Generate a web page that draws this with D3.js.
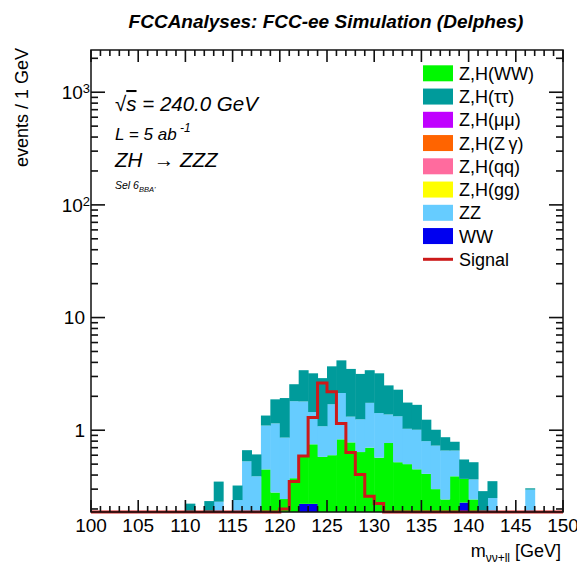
<!DOCTYPE html>
<html>
<head>
<meta charset="utf-8">
<script src="https://cdn.jsdelivr.net/npm/d3@7"></script>
<style>
  body { margin: 0; background: #fff; }
  text { font-family: "Liberation Sans", Arial, sans-serif; fill: #000; }
</style>
</head>
<body>
<div id="chart"></div>
<script>
// 1 GeV bins, low edges 100 ... 149
const binLow = d3.range(100, 150);

// per-bin contributions (events / 1 GeV)
const WW = [0,0,0,0,0,0,0,0,0,0,
  0,0,0,0,0,0,0,0,0,0,
  0,0,0.222,0.222,0,0,0,0,0,0,
  0,0,0,0,0,0,0,0,0,0.228,
  0,0,0,0,0,0,0,0,0,0];
const ZH_WW = [0,0,0,0,0,0,0,0,0,0,
  0,0,0,0,0,0,0,0,0.449,0.28,
  0.245,0.375,0.363,0.528,0.58,0.6,0.83,0.78,0.64,0.7,
  0.57,0.77,0.52,0.5,0.45,0.41,0.30,0.243,0.39,0.142,
  0.243,0,0,0,0,0,0,0,0,0];
const ZH_mumu = [0,0,0,0,0,0,0,0,0,0, 0,0,0,0,0,0,0,0,0,0, 0,0,0,0,0,0,0,0,0,0, 0,0,0,0,0,0,0,0,0,0, 0,0,0,0,0,0,0,0,0,0];
const ZH_Zgam = [0,0,0,0,0,0,0,0,0,0, 0,0,0,0,0,0,0,0,0,0, 0,0,0,0,0,0,0,0,0,0, 0,0,0,0,0,0,0,0,0,0, 0,0,0,0,0,0,0,0,0,0];
const ZH_qq   = [0,0,0,0,0,0,0,0,0,0, 0,0,0,0,0,0,0,0,0,0, 0,0,0,0,0,0,0,0,0,0, 0,0,0,0,0,0,0,0,0,0, 0,0,0,0,0,0,0,0,0,0];
const ZH_gg   = [0,0,0,0,0,0,0,0,0,0, 0,0,0,0,0,0,0,0,0,0, 0,0,0,0,0,0,0,0,0,0, 0,0,0,0,0,0,0,0,0,0, 0,0,0,0,0,0,0,0,0,0];
const ZZ = [0,0,0,0,0,0,0,0,0,0,
  0,0,0,0.232,0,0.24,0.53,0.39,0.651,0.87,
  0.615,1.435,1.215,0.70,0.505,1.1,1.31,0.54,0.61,1.05,
  0.85,0.61,0.81,0.53,0.56,0.39,0.43,0.417,0.27,0,
  0.123,0,0.25,0,0,0,0.297,0,0,0];
const ZH_tautau = [0,0,0,0,0,0,0,0,0,0,
  0.223,0,0.235,0.118,0,0.083,0.135,0.22,0.25,0.73,
  1.07,0.75,1.61,1.75,1.815,1.99,2.03,2.18,1.91,1.66,
  1.78,1.12,0.96,0.73,0.67,0.44,0.28,0.207,0.13,0.18,
  0.154,0.288,0.103,0,0,0,0.008,0,0,0];
const signal = [0,0,0,0,0,0,0,0,0,0,
  0,0,0,0,0,0,0,0,0,0,
  0.2,0.35,0.59,1.3,2.63,2.2,1.15,0.635,0.405,0.26,
  0.224,0,0,0,0,0,0,0,0,0,
  0,0,0,0,0,0,0,0,0,0];

// stack order bottom -> top
const stackKeys = ["WW", "ZH_WW", "ZH_mumu", "ZH_Zgam", "ZH_qq", "ZH_gg", "ZZ", "ZH_tautau"];
const series = {WW, ZH_WW, ZH_mumu, ZH_Zgam, ZH_qq, ZH_gg, ZZ, ZH_tautau};
const colors = {WW: "#0000f0", ZH_WW: "#00f800", ZH_mumu: "#c000ff", ZH_Zgam: "#ff6400",
  ZH_qq: "#ff6b9e", ZH_gg: "#ffff00", ZZ: "#66ccff", ZH_tautau: "#009b9b"};

const legendKeys = ["ZH_WW", "ZH_tautau", "ZH_mumu", "ZH_Zgam", "ZH_qq", "ZH_gg", "ZZ", "WW"];
const legendLabels = ["Z,H(WW)", "Z,H(\u03c4\u03c4)", "Z,H(\u03bc\u03bc)", "Z,H(Z\u2009\u03b3)",
  "Z,H(qq)", "Z,H(gg)", "ZZ", "WW"];

const xMajor = [100, 105, 110, 115, 120, 125, 130, 135, 140, 145, 150];
const yMajor = [1, 10, 100, 1000];
const yMinor = [0.2,0.3,0.4,0.5,0.6,0.7,0.8,0.9, 2,3,4,5,6,7,8,9,
  20,30,40,50,60,70,80,90, 200,300,400,500,600,700,800,900, 2000];

const W = 577, H = 565;
const pLeft = 91, pRight = 563, pTop = 50, pBottom = 512;
const yMin = 0.188;

const svg = d3.select("#chart").append("svg")
  .attr("width", W).attr("height", H);

const x = d3.scaleLinear().domain([100, 150]).range([pLeft, pRight]);
const y = d3.scaleLog().domain([yMin, 2370]).range([pBottom, pTop]);

// stacked histogram
const table = binLow.map((b, i) => {
  const row = {b};
  stackKeys.forEach(k => row[k] = series[k][i]);
  return row;
});
const stacked = d3.stack().keys(stackKeys)(table);

svg.append("g").selectAll("g")
  .data(stacked)
  .join("g")
    .attr("fill", d => colors[d.key])
  .selectAll("rect")
  .data(d => d.filter(p => p[1] > p[0] && p[1] > yMin))
  .join("rect")
    .attr("x", p => x(p.data.b))
    .attr("width", p => x(p.data.b + 1) - x(p.data.b) + 0.5)
    .attr("y", p => y(p[1]))
    .attr("height", p => y(Math.max(p[0], yMin)) - y(p[1]));

// signal line
const sigPts = binLow.map((b, i) => [b, Math.max(signal[i], yMin)]);
sigPts.push([150, sigPts[sigPts.length - 1][1]]);
svg.append("path")
  .datum(sigPts)
  .attr("fill", "none")
  .attr("stroke", "#cc1a1a")
  .attr("stroke-width", 3)
  .attr("d", d3.line().x(d => x(d[0])).y(d => y(d[1])).curve(d3.curveStepAfter));

// ticks, inward on all four sides, drawn as thin filled rects
const xMinor = binLow.filter(v => v % 5 !== 0);
const tickFill = "#111";
const tw = 1.6;
const ticks = svg.append("g").attr("fill", tickFill);
function xTicks(vals, len) {
  ticks.append("g").selectAll("rect").data(vals).join("rect")
    .attr("x", d => x(d) - tw / 2).attr("width", tw)
    .attr("y", pBottom - len).attr("height", len);
  ticks.append("g").selectAll("rect").data(vals).join("rect")
    .attr("x", d => x(d) - tw / 2).attr("width", tw)
    .attr("y", pTop).attr("height", len);
}
function yTicks(vals, len) {
  ticks.append("g").selectAll("rect").data(vals).join("rect")
    .attr("y", d => y(d) - tw / 2).attr("height", tw)
    .attr("x", pLeft).attr("width", len);
  ticks.append("g").selectAll("rect").data(vals).join("rect")
    .attr("y", d => y(d) - tw / 2).attr("height", tw)
    .attr("x", pRight - len).attr("width", len);
}
xTicks(xMajor, 12);
xTicks(xMinor, 6);
yTicks(yMajor, 14);
yTicks(yMinor, 7);

// tick labels
svg.append("g").selectAll("text").data(xMajor).join("text")
  .attr("x", d => x(d)).attr("y", pBottom + 7).attr("dy", "0.71em")
  .attr("text-anchor", "middle")
  .style("font-size", "19px")
  .text(d => d);

const yLab = svg.append("g").selectAll("text").data(yMajor).join("text")
  .attr("x", pLeft - 6).attr("y", d => y(d)).attr("dy", "0.35em")
  .attr("text-anchor", "end")
  .style("font-size", "19px");
yLab.each(function(d) {
  const t = d3.select(this);
  const e = Math.round(Math.log10(d));
  if (e <= 1) {
    t.text(String(d));
  } else {
    t.attr("dx", 5).text("10");
    t.append("tspan").attr("dy", "-0.45em").style("font-size", "13px").text(e);
  }
});

// frame
svg.append("rect")
  .attr("x", pLeft).attr("y", pTop)
  .attr("width", pRight - pLeft).attr("height", pBottom - pTop)
  .attr("fill", "none").attr("stroke", "#111").attr("stroke-width", 1.5);

// title
svg.append("text")
  .attr("x", 326).attr("y", 28)
  .attr("text-anchor", "middle")
  .style("font-size", "19px").style("font-weight", "bold").style("font-style", "italic")
  .text("FCCAnalyses: FCC-ee Simulation (Delphes)");

// axis titles
svg.append("text")
  .attr("transform", "translate(28,48) rotate(-90)")
  .attr("text-anchor", "end")
  .style("font-size", "18px")
  .text("events / 1 GeV");

const xt = svg.append("text")
  .attr("x", 561).attr("y", 557)
  .attr("text-anchor", "end")
  .style("font-size", "18px");
xt.append("tspan").text("m");
xt.append("tspan").attr("dy", 5).style("font-size", "12px").text("\u03bd\u03bd+ll");
xt.append("tspan").attr("dy", -5).text("  [GeV]");

// annotations
const ann = svg.append("g").style("font-style", "italic");
const t1 = ann.append("text").attr("x", 115).attr("y", 111).style("font-size", "20.5px");
t1.append("tspan").text("\u221a");
t1.append("tspan").style("text-decoration", "overline").text("s");
t1.append("tspan").text(" = 240.0 GeV");
const t2 = ann.append("text").attr("x", 115).attr("y", 140).style("font-size", "17px");
t2.append("tspan").text("L = 5 ab");
t2.append("tspan").attr("dy", -8).style("font-size", "12px").text(" -1");
ann.append("text").attr("x", 115).attr("y", 167).style("font-size", "20.5px")
  .style("white-space", "pre")
  .text("ZH  \u2192 ZZZ");
const t4 = ann.append("text").attr("x", 115).attr("y", 189).style("font-size", "10.5px");
t4.append("tspan").text("Sel 6");
t4.append("tspan").attr("dy", 3).style("font-size", "7.5px").text("BBA'");

// legend
const lg = svg.append("g");
const rowY = i => 73.3 + i * 23.25;
legendKeys.forEach((k, i) => {
  lg.append("rect")
    .attr("x", 423).attr("y", rowY(i) - 8)
    .attr("width", 30).attr("height", 16)
    .attr("fill", colors[k]);
  lg.append("text")
    .attr("x", 459).attr("y", rowY(i)).attr("dy", "0.36em")
    .style("font-size", "18px")
    .text(legendLabels[i]);
});
const sIdx = legendKeys.length;
lg.append("line")
  .attr("x1", 423).attr("x2", 453)
  .attr("y1", rowY(sIdx)).attr("y2", rowY(sIdx))
  .attr("stroke", "#cc1a1a").attr("stroke-width", 3);
lg.append("text")
  .attr("x", 459).attr("y", rowY(sIdx)).attr("dy", "0.36em")
  .style("font-size", "18px")
  .text("Signal");
</script>
</body>
</html>
